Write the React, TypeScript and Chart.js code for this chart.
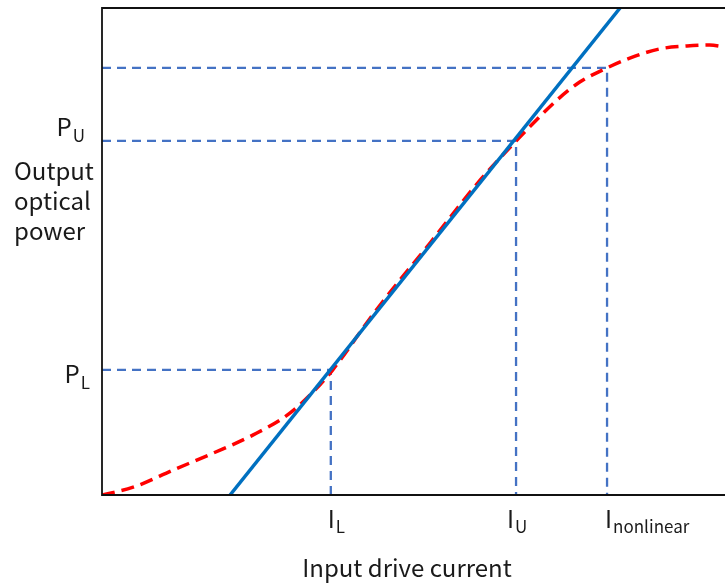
import React, { useEffect, useRef } from "react";
import { Chart, registerables } from "chart.js";

Chart.register(...registerables);

// ---- data ----
const linearX = [1.97, 7.97];
const linearY = [0, 10];

const curveX = [0, 0.48, 1.09, 1.71, 2.32, 2.89, 3.35, 3.55, 4.22, 5.05, 5.82, 6.37, 6.58, 7.0, 7.35, 7.77, 8.12, 8.58, 9.0, 9.35, 9.58, 9.97];
const curveY = [0, 0.16, 0.51, 0.86, 1.23, 1.68, 2.26, 2.57, 3.8, 5.18, 6.47, 7.27, 7.56, 8.11, 8.48, 8.77, 8.97, 9.16, 9.22, 9.24, 9.2, 9.14];

const xTickValues = [3.52, 6.37, 7.77];
const xTickMain = ["I", "I", "I"];
const xTickSub = ["L", "U", "nonlinear"];
const guideYValues = [2.57, 7.27, 8.77];
const yTickValues = [2.57, 7.27];
const yTickMain = ["P", "P"];
const yTickSub = ["L", "U"];
const yTitleLines = ["Output", "optical", "power"];
const xTitle = "Input drive current";

// style offsets (pixels) for the hand-placed labels
const xTickDx = [-3, -9, -2];
const yTickRight = [90, 85];
const yTickBaseDy = [13, -5];

const FONT = '"Noto Sans CJK SC", "Noto Sans", sans-serif';

const labelsPlugin = {
  id: "labels",
  afterDraw(chart: any) {
    const ctx = chart.ctx;
    const xs = chart.scales.x;
    const ys = chart.scales.y;
    const area = chart.chartArea;
    ctx.save();
    // frame: left, bottom, top
    ctx.strokeStyle = "#111";
    ctx.lineWidth = 1.8;
    ctx.beginPath();
    ctx.moveTo(area.right + 5, area.top);
    ctx.lineTo(area.left, area.top);
    ctx.lineTo(area.left, area.bottom);
    ctx.lineTo(area.right + 5, area.bottom);
    ctx.stroke();

    ctx.fillStyle = "#1a1a1a";
    ctx.textBaseline = "alphabetic";
    // x tick labels
    xTickValues.forEach((v, i) => {
      const px = xs.getPixelForValue(v) + xTickDx[i];
      ctx.font = `24px ${FONT}`;
      ctx.textAlign = "left";
      ctx.fillText(xTickMain[i], px, area.bottom + 33);
      const w = ctx.measureText(xTickMain[i]).width;
      ctx.font = `17px ${FONT}`;
      ctx.fillText(xTickSub[i], px + w + 1, area.bottom + 38);
    });
    // y tick labels
    yTickValues.forEach((v, i) => {
      const py = ys.getPixelForValue(v) + yTickBaseDy[i];
      ctx.font = `17px ${FONT}`;
      const ws = ctx.measureText(yTickSub[i]).width;
      ctx.font = `24px ${FONT}`;
      const wm = ctx.measureText(yTickMain[i]).width;
      const right = yTickRight[i];
      ctx.textAlign = "left";
      ctx.fillText(yTickMain[i], right - ws - 1 - wm, py);
      ctx.font = `17px ${FONT}`;
      ctx.fillText(yTickSub[i], right - ws, py + 6);
    });
    // y title
    ctx.font = `24px ${FONT}`;
    ctx.textAlign = "left";
    yTitleLines.forEach((t, i) => {
      ctx.fillText(t, 14, 180 + i * 30);
    });
    // x title
    ctx.textAlign = "center";
    ctx.fillText(xTitle, 407, 577);
    ctx.restore();
  },
};

export default function App() {
  const ref = useRef<HTMLCanvasElement>(null);
  useEffect(() => {
    if (!ref.current) return;
    const guideColor = "#4472C4";
    const guides: any[] = [];
    xTickValues.forEach((xv, i) => {
      const yv = guideYValues[i];
      guides.push({
        data: [
          { x: 0, y: yv },
          { x: xv, y: yv },
          { x: xv, y: 0 },
        ],
        borderColor: guideColor,
        borderWidth: 2.3,
        borderDash: [9, 6],
        pointRadius: 0,
        tension: 0,
        fill: false,
      });
    });
    const chart = new Chart(ref.current, {
      type: "line",
      data: {
        datasets: [
          {
            data: linearX.map((x, i) => ({ x, y: linearY[i] })),
            borderColor: "#0070C0",
            borderWidth: 3.5,
            pointRadius: 0,
            tension: 0,
            fill: false,
          },
          {
            data: curveX.map((x, i) => ({ x, y: curveY[i] })),
            borderColor: "#FF0000",
            borderWidth: 3.5,
            borderDash: [13, 7],
            pointRadius: 0,
            cubicInterpolationMode: "monotone",
            fill: false,
          },
          ...guides,
        ],
      },
      options: {
        responsive: false,
        animation: false,
        layout: { padding: { left: 102, top: 8, right: 0, bottom: 90 } },
        plugins: { legend: { display: false }, tooltip: { enabled: false } },
        scales: {
          x: { type: "linear", min: 0, max: 10, display: false },
          y: { type: "linear", min: 0, max: 10, display: false },
        },
      },
      plugins: [labelsPlugin],
    } as any);
    return () => chart.destroy();
  }, []);
  return (
    <div
      style={{
        position: "fixed",
        left: 0,
        top: 0,
        width: 725,
        height: 585,
        overflow: "hidden",
        background: "#fff",
      }}
    >
      <canvas ref={ref} width={752} height={585} style={{ width: 752, height: 585, display: "block" }} />
    </div>
  );
}
